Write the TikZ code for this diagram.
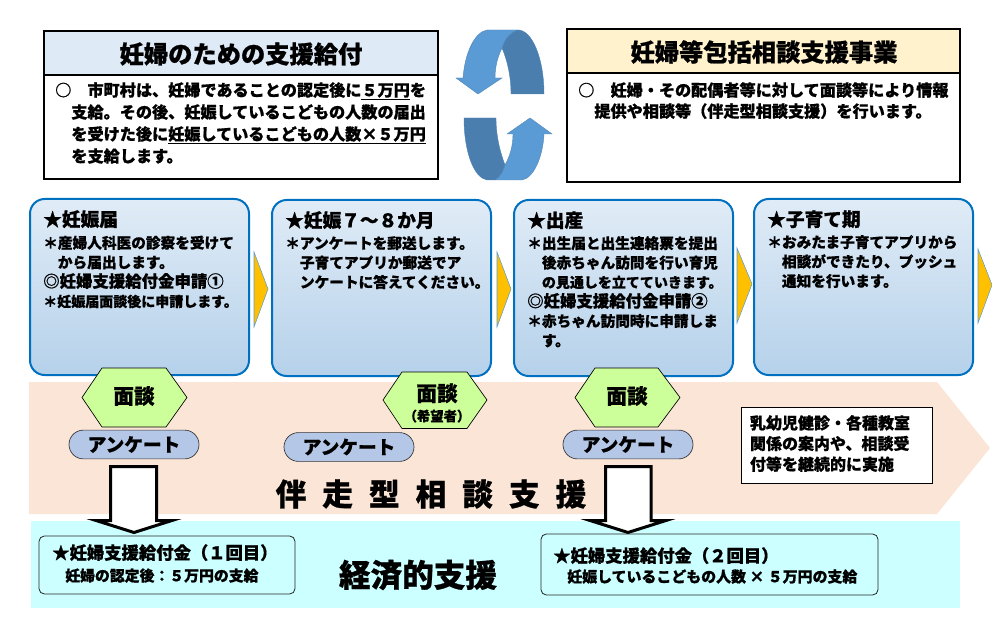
\documentclass[tikz,border=0pt]{standalone}
\usepackage{fontspec}
\setmainfont{Noto Sans CJK JP}[BoldFeatures={FakeBold=0.8}]
\usepackage{xcolor}

\definecolor{headblue}{HTML}{DEEAF6}
\definecolor{headyellow}{HTML}{FFF2CC}
\definecolor{panelline}{HTML}{0070C0}
\definecolor{paneltop}{HTML}{F6F9FD}
\definecolor{panelmid}{HTML}{AECDE8}
\definecolor{panelend}{HTML}{C6DBF0}
\definecolor{peach}{HTML}{FBE5D6}
\definecolor{paycyan}{HTML}{CCFFFF}
\definecolor{hexgreen}{HTML}{CCFF99}
\definecolor{pillblue}{HTML}{B4C7E7}
\definecolor{gold}{HTML}{FFC000}
\definecolor{arrowlight}{HTML}{5B9BD5}
\definecolor{arrowdark}{HTML}{4A7EAE}

\pgfdeclareverticalshading{panelshade}{100bp}{color(0bp)=(panelend); color(17bp)=(panelmid); color(100bp)=(paneltop)}

\tikzset{
  headbox/.style={draw=black, line width=1.5pt},
  bodybox/.style={draw=black, line width=1.5pt, fill=white},
  headtext/.style={font=\bfseries\fontsize{18.2}{22}\selectfont, inner sep=0pt},
  bodytext/.style={font=\bfseries\fontsize{12.1}{16.5}\selectfont, align=left, anchor=north west, inner sep=0pt},
  panelbox/.style={draw=panelline, line width=1.5pt, rounded corners=11pt, shading=panelshade},
  paneltext/.style={font=\bfseries\fontsize{11}{14.6}\selectfont, align=left, anchor=north west, inner sep=0pt},
  paytext/.style={font=\bfseries\fontsize{13}{16.5}\selectfont, align=left, anchor=north west, inner sep=0pt},
  chevron/.style={draw=arrowlight, line width=0.4pt, fill=gold},
  hexbox/.style={draw=black, line width=0.5pt, fill=hexgreen},
  hextext/.style={font=\bfseries\fontsize{15.5}{18}\selectfont, align=center, inner sep=0pt},
  pill/.style={draw=black!80, line width=0.5pt, fill=pillblue, rounded corners=10.8pt, minimum width=97.5pt, minimum height=21.6pt, inner sep=0pt, font=\bfseries\fontsize{14}{16}\selectfont},
  blockarrow/.style={draw=black, line width=2.25pt, fill=white, miter limit=12},
  paybox/.style={draw=black!85, line width=0.6pt, rounded corners=4pt, fill=paycyan},
  roundarrow/.style={draw=arrowlight!85!black, line width=0.3pt}
}

\newcommand{\paneltitle}[1]{{\fontsize{14}{14.6}\selectfont #1}}
\newcommand{\panelmark}[1]{{\fontsize{12.3}{14.6}\selectfont #1}}
\newcommand{\panelnarrow}[1]{{\fontsize{10.5}{14.6}\selectfont #1}}

\begin{document}
\begin{tikzpicture}[x=0.75pt, y=-0.75pt]
    \useasboundingbox (0,0) rectangle (992,627);

    % Riquadro sinistro
    \draw[bodybox] (44,75) rectangle (438,179);
    \draw[headbox, fill=headblue] (44,31) rectangle (438,75);
    \node[headtext] (benefit) at (241,54) {妊婦のための支援給付};
    \node[bodytext] (benefittext) at (55,82) {○　市町村は、妊婦であることの認定後に\underline{５万円}を\\　支給。その後、妊娠しているこどもの人数の届出\\　を受けた後に\underline{妊娠しているこどもの人数×５万円}\\　を支給します。};

    % Riquadro destro
    \draw[bodybox] (567,73) rectangle (960,182);
    \draw[headbox, fill=headyellow] (567,29) rectangle (960,73);
    \node[headtext] (consult) at (764,52) {妊婦等包括相談支援事業};
    \node[bodytext, font=\bfseries\fontsize{12.1}{15.8}\selectfont] (consulttext) at (578,82) {○　妊婦・その配偶者等に対して面談等により情報\\　提供や相談等（伴走型相談支援）を行います。};

    % Frecce circolari
    \draw[roundarrow, fill=arrowdark] (518,30) .. controls (532,30) and (544,58) .. (544,94) -- (511,94) .. controls (511,78) and (508,62) .. (502,48) .. controls (505,38) and (511,32) .. (518,30) -- cycle;
    \draw[roundarrow, fill=arrowlight] (487,30) -- (518,30) .. controls (511,32) and (505,38) .. (502,48) .. controls (498,56) and (495,66) .. (495,78) -- (502,78) -- (478,94) -- (456,78) -- (463,78) .. controls (465,52) and (475,32) .. (487,30) -- cycle;
    \draw[roundarrow, fill=arrowdark] (464,118) -- (496,118) .. controls (496,136) and (500,152) .. (505,165) .. controls (503,172) and (500,177) .. (495,180) -- (487,180) .. controls (474,178) and (464,152) .. (464,118) -- cycle;
    \draw[roundarrow, fill=arrowlight] (530,118) -- (552,134) -- (544,134) .. controls (543,156) and (534,178) .. (522,180) -- (495,180) .. controls (500,177) and (503,172) .. (505,165) .. controls (510,156) and (513,146) .. (513,134) -- (507,134) -- cycle;

    % Pannelli
    \draw[panelbox] (30,199) rectangle (249,375);
    \draw[panelbox] (272,200) rectangle (491,376);
    \draw[panelbox] (514,200) rectangle (733,376);
    \draw[panelbox] (754,199) rectangle (973,375);

    \node[paneltext] (pregnancy) at (43,210) {\paneltitle{★妊娠届}\\[2pt]＊産婦人科医の診察を受けて\\　から届出します。\\\panelmark{◎妊婦支援給付金申請①}\\\panelnarrow{＊妊娠届面談後に申請します。}};
    \node[paneltext] (months) at (285,211) {\paneltitle{★妊娠７～８か月}\\[1.5pt]＊アンケートを郵送します。\\　子育てアプリか郵送でア\\　ンケートに答えてください。};
    \node[paneltext] (birth) at (527,211) {\paneltitle{★出産}\\[1.5pt]＊出生届と出生連絡票を提出\\　後赤ちゃん訪問を行い育児\\　\panelnarrow{の見通しを立てていきます。}\\\panelmark{◎妊婦支援給付金申請②}\\＊赤ちゃん訪問時に申請しま\\　す。};
    \node[paneltext] (childcare) at (767,210) {\paneltitle{★子育て期}\\[1.5pt]＊おみたま子育てアプリから\\　相談ができたり、プッシュ\\　通知を行います。};

    % Triangoli
    \draw[chevron] (254,252) -- (268,289) -- (254,327) -- cycle;
    \draw[chevron] (497,252) -- (511,289) -- (497,327) -- cycle;
    \draw[chevron] (737,248) -- (752,284) -- (737,323) -- cycle;
    \draw[chevron] (978,249) -- (992,285) -- (978,323) -- cycle;

    % Fasce
    \fill[peach] (29,382) -- (937,382) -- (990,448) -- (937,514) -- (29,514) -- cycle;
    \fill[paycyan] (31,521) rectangle (960,608);

    % Esagoni
    \draw[hexbox] (82,397.5) -- (102,368) -- (166,368) -- (187,397.5) -- (166,427) -- (102,427) -- cycle;
    \node[hextext] (interviewa) at (134,396) {面談};
    \draw[hexbox] (383,400) -- (402,372) -- (467,372) -- (487,400) -- (467,428.5) -- (402,428.5) -- cycle;
    \node[hextext] (interviewb) at (437,403) {面談\\[-3pt]{\fontsize{10}{11}\selectfont （希望者）}};
    \draw[hexbox] (575,397.5) -- (595,368) -- (658,368) -- (680,397.5) -- (658,427) -- (595,427) -- cycle;
    \node[hextext] (interviewc) at (627,396) {面談};

    % Questionari
    \node[pill] (surveya) at (134,444.5) {アンケート};
    \node[pill] (surveyb) at (349,447) {アンケート};
    \node[pill] (surveyc) at (628,444.5) {アンケート};

    % Frecce verso il basso
    \draw[blockarrow] (110.5,466.5) -- (156.5,466.5) -- (156.5,520.5) -- (172,520.5) -- (134,532.5) -- (96,520.5) -- (110.5,520.5) -- cycle;
    \draw[blockarrow] (605.5,466.5) -- (651,466.5) -- (651,520.5) -- (666,520.5) -- (628,532.5) -- (590,520.5) -- (605.5,520.5) -- cycle;

    % Testi delle fasce
    \node[inner sep=0pt, font=\bfseries\fontsize{23}{26}\selectfont] (support) at (431,494) {伴\hspace{12pt}走\hspace{12pt}型\hspace{12pt}相\hspace{12pt}談\hspace{12pt}支\hspace{12pt}援};
    \draw[draw=black, line width=0.6pt, fill=white] (741,407) rectangle (932,483);
    \node[font=\bfseries\fontsize{12}{15.5}\selectfont, align=left, inner sep=0pt] (ongoing) at (830,443.5) {乳幼児健診・各種教室\\関係の案内や、相談受\\付等を継続的に実施};
    \node[inner sep=0pt, font=\bfseries\fontsize{23.7}{28}\selectfont] (economic) at (418,575) {経済的支援};

    % Riquadri del pagamento
    \draw[paybox] (39,536) rectangle (295,594);
    \node[paytext] (paya) at (52,544) {★妊婦支援給付金（１回目）\\\hspace*{9.75pt}{\fontsize{11.15}{16.5}\selectfont 妊婦の認定後：５万円の支給}};
    \draw[paybox] (541,534) rectangle (878,595);
    \node[paytext, font=\bfseries\fontsize{13}{15}\selectfont] (payb) at (553,547) {★妊婦支援給付金（２回目）\\\hspace*{10.5pt}{\fontsize{11.2}{15}\selectfont 妊娠しているこどもの人数 × ５万円の支給}};
\end{tikzpicture}
\end{document}
